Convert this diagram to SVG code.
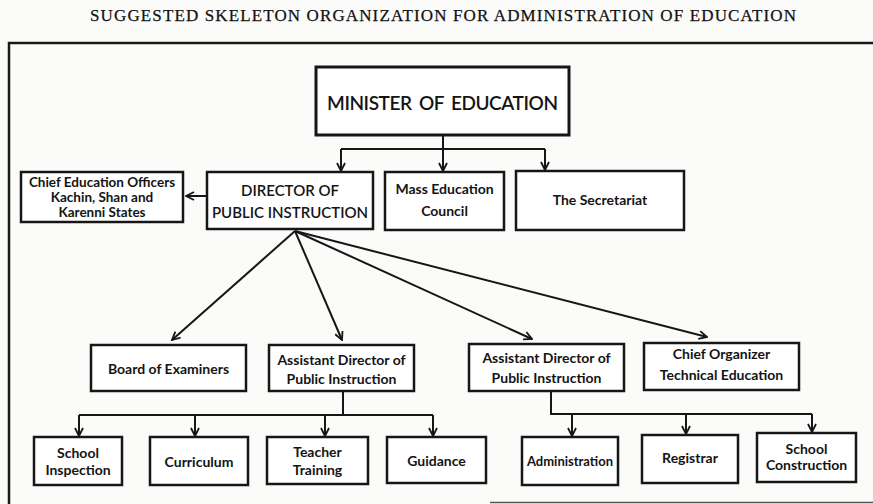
<svg xmlns="http://www.w3.org/2000/svg" width="873" height="504" viewBox="0 0 873 504">
  <style>
    .bg { fill: #fbfbfa; }
    .box { fill: #ffffff; stroke: #161616; stroke-width: 2.5; }
    .big { fill: #ffffff; stroke: #161616; stroke-width: 3; }
    .frame { fill: none; stroke: #1a1a1a; stroke-width: 2.5; }
    .conn { fill: none; stroke: #161616; stroke-width: 2; }
    .lbl { font-family: Lato, "Open Sans", "Liberation Sans", sans-serif; font-weight: bold; font-size: 14px; fill: #141414; text-anchor: middle; }
    .cap { font-family: Lato, "Open Sans", "Liberation Sans", sans-serif; font-weight: 600; font-size: 15px; fill: #141414; text-anchor: middle; }
    .title { font-family: "Liberation Serif", "DejaVu Serif", serif; font-size: 17px; fill: #111; stroke: #111; stroke-width: 0.25; text-anchor: middle; }
  </style>
  <defs>
    <marker id="ah" viewBox="0 0 10 10" refX="9" refY="5" markerWidth="10" markerHeight="10" markerUnits="userSpaceOnUse" orient="auto">
      <path d="M1,1 L9,5 L1,9" fill="none" stroke="#161616" stroke-width="1.8"/>
    </marker>
  </defs>
  <rect class="bg" x="0" y="0" width="873" height="504"/>
  <text class="title" x="443" y="21" textLength="706" lengthAdjust="spacing">SUGGESTED SKELETON ORGANIZATION FOR ADMINISTRATION OF EDUCATION</text>
  <g id="frame">
    <path class="frame" d="M9,504 V43 H873"/>
    <path d="M490,502.5 H873" fill="none" stroke="#555" stroke-width="1.5"/>
  </g>

  <g id="connectors">
    <path class="conn" d="M443,135 V149"/>
    <path class="conn" d="M341,149 H545"/>
    <path class="conn" d="M341,149 V171" marker-end="url(#ah)"/>
    <path class="conn" d="M443,149 V171" marker-end="url(#ah)"/>
    <path class="conn" d="M545,149 V170" marker-end="url(#ah)"/>
    <path class="conn" d="M207,196 H186" marker-end="url(#ah)"/>
    <path class="conn" d="M295,231 L172,340" marker-end="url(#ah)"/>
    <path class="conn" d="M295,231 L342,340" marker-end="url(#ah)"/>
    <path class="conn" d="M295,231 L532,339" marker-end="url(#ah)"/>
    <path class="conn" d="M295,231 L707,337" marker-end="url(#ah)"/>
    <path class="conn" d="M343,391 V415"/>
    <path class="conn" d="M79,415 H433"/>
    <path class="conn" d="M79,415 V436" marker-end="url(#ah)"/>
    <path class="conn" d="M195,415 V436" marker-end="url(#ah)"/>
    <path class="conn" d="M325,415 V436" marker-end="url(#ah)"/>
    <path class="conn" d="M433,415 V436" marker-end="url(#ah)"/>
    <path class="conn" d="M551,391 V414 H812"/>
    <path class="conn" d="M572,414 V436" marker-end="url(#ah)"/>
    <path class="conn" d="M686,414 V434" marker-end="url(#ah)"/>
    <path class="conn" d="M812,414 V432" marker-end="url(#ah)"/>
  </g>

  <g id="minister">
    <rect class="big" x="316" y="67" width="253" height="68"/>
    <text class="cap" x="442.5" y="110" style="font-size:19px" word-spacing="3" textLength="231" lengthAdjust="spacing">MINISTER OF EDUCATION</text>
  </g>
  <g id="chief-education-officers">
    <rect class="box" x="21" y="172" width="162" height="50"/>
    <text class="lbl" x="102" y="187" style="font-size:13.5px">Chief Education Officers</text>
    <text class="lbl" x="102" y="202" style="font-size:13.5px">Kachin, Shan and</text>
    <text class="lbl" x="102" y="217" style="font-size:13.5px">Karenni States</text>
  </g>
  <g id="director">
    <rect class="box" x="207" y="172" width="166" height="57"/>
    <text class="cap" x="290" y="196">DIRECTOR OF</text>
    <text class="cap" x="290" y="218">PUBLIC INSTRUCTION</text>
  </g>
  <g id="mass-education-council">
    <rect class="box" x="385" y="172" width="119" height="58"/>
    <text class="lbl" x="444.5" y="194">Mass Education</text>
    <text class="lbl" x="444.5" y="216">Council</text>
  </g>
  <g id="secretariat">
    <rect class="box" x="516" y="171" width="168" height="59"/>
    <text class="lbl" x="600" y="205">The Secretariat</text>
  </g>

  <g id="board-of-examiners">
    <rect class="box" x="91" y="345" width="155" height="46"/>
    <text class="lbl" x="168.5" y="374">Board of Examiners</text>
  </g>
  <g id="asst-director-1">
    <rect class="box" x="269" y="345" width="145" height="46"/>
    <text class="lbl" x="341.5" y="365">Assistant Director of</text>
    <text class="lbl" x="341.5" y="384">Public Instruction</text>
  </g>
  <g id="asst-director-2">
    <rect class="box" x="469" y="344" width="155" height="47"/>
    <text class="lbl" x="546.5" y="363">Assistant Director of</text>
    <text class="lbl" x="546.5" y="383">Public Instruction</text>
  </g>
  <g id="chief-organizer">
    <rect class="box" x="644" y="343" width="155" height="47"/>
    <text class="lbl" x="721.5" y="359">Chief Organizer</text>
    <text class="lbl" x="721.5" y="380">Technical Education</text>
  </g>

  <g id="school-inspection">
    <rect class="box" x="34" y="437" width="88" height="48"/>
    <text class="lbl" x="78" y="458">School</text>
    <text class="lbl" x="78" y="475">Inspection</text>
  </g>
  <g id="curriculum">
    <rect class="box" x="150" y="437" width="98" height="48"/>
    <text class="lbl" x="199" y="467">Curriculum</text>
  </g>
  <g id="teacher-training">
    <rect class="box" x="267" y="437" width="101" height="47"/>
    <text class="lbl" x="317.5" y="457">Teacher</text>
    <text class="lbl" x="317.5" y="475">Training</text>
  </g>
  <g id="guidance">
    <rect class="box" x="387" y="437" width="99" height="46"/>
    <text class="lbl" x="436.5" y="466">Guidance</text>
  </g>
  <g id="administration">
    <rect class="box" x="522" y="437" width="96" height="48"/>
    <text class="lbl" x="570" y="466" style="font-size:13px">Administration</text>
  </g>
  <g id="registrar">
    <rect class="box" x="642" y="435" width="96" height="48"/>
    <text class="lbl" x="690" y="463">Registrar</text>
  </g>
  <g id="school-construction">
    <rect class="box" x="757" y="433" width="99" height="49"/>
    <text class="lbl" x="806.5" y="454">School</text>
    <text class="lbl" x="806.5" y="470">Construction</text>
  </g>
</svg>
